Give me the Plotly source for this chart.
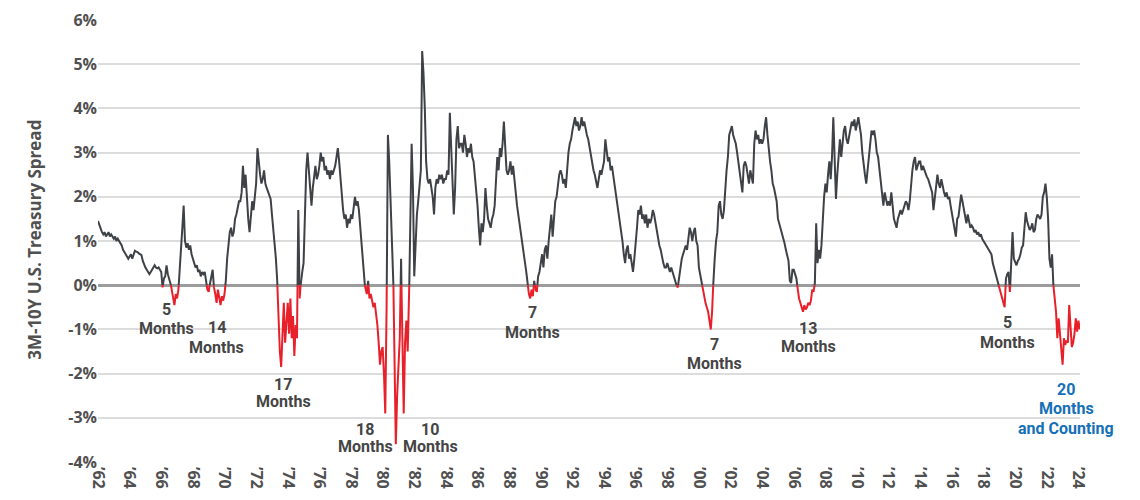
import numpy as np
import plotly.graph_objects as go

# 3M-10Y U.S. Treasury spread (%), monthly readings, one list per year
spread = {
    1962: [1.45, 1.35, 1.25, 1.2, 1.15, 1.2, 1.1, 1.15, 1.2, 1.1, 1.15, 1.1],
    1963: [1.05, 1.1, 1.0, 1.05, 1.0, 0.95, 0.9, 0.8, 0.75, 0.7, 0.65, 0.6],
    1964: [0.65, 0.7, 0.6, 0.72, 0.78, 0.76, 0.75, 0.72, 0.7, 0.68, 0.55, 0.45],
    1965: [0.4, 0.35, 0.3, 0.25, 0.3, 0.35, 0.4, 0.45, 0.4, 0.38, 0.4, 0.35],
    1966: [0.3, -0.05, 0.15, 0.2, 0.45, 0.25, 0.15, 0.05, -0.1, -0.3, -0.45, -0.2],
    1967: [-0.3, -0.1, 0.3, 0.9, 1.3, 1.8, 1.0, 0.85, 0.95, 0.8, 0.9, 0.7],
    1968: [0.6, 0.5, 0.4, 0.45, 0.3, 0.35, 0.2, 0.3, 0.25, 0.3, 0.1, -0.1],
    1969: [-0.15, 0.05, 0.2, 0.35, -0.05, -0.2, -0.4, -0.1, -0.3, -0.45, -0.25, -0.35],
    1970: [-0.2, 0.1, 0.6, 1.0, 1.2, 1.3, 1.1, 1.2, 1.5, 1.6, 1.8, 1.9],
    1971: [1.9, 2.1, 2.7, 2.2, 2.5, 1.9, 1.5, 1.2, 1.6, 1.9, 1.7, 2.1],
    1972: [2.3, 3.1, 2.7, 2.5, 2.3, 2.4, 2.6, 2.3, 2.2, 2.1, 2.0, 1.95],
    1973: [1.6, 1.3, 1.0, 0.6, 0.1, -0.8, -1.5, -1.85, -0.9, -0.4, -1.3, -0.7],
    1974: [-0.4, -1.1, -0.3, -1.2, -0.7, -1.6, -0.9, -1.2, 1.7, -0.3, 0.1, 0.3],
    1975: [0.5, 1.5, 2.6, 3.0, 2.6, 2.1, 1.8, 2.2, 2.5, 2.7, 2.4, 2.5],
    1976: [2.7, 3.0, 2.8, 2.9, 2.6, 2.7, 2.5, 2.6, 2.4, 2.6, 2.5, 2.6],
    1977: [2.7, 2.9, 3.1, 2.8, 2.4, 2.0, 1.7, 1.5, 1.6, 1.3, 1.5, 1.4],
    1978: [1.6, 1.5, 1.8, 2.0, 1.8, 1.9, 1.7, 1.3, 1.0, 0.6, 0.1, -0.1],
    1979: [-0.2, 0.1, -0.3, -0.2, -0.4, -0.5, -0.4, -0.6, -0.9, -1.3, -1.8, -1.5],
    1980: [-1.4, -2.0, -2.9, -0.5, 3.4, 2.8, 2.0, 1.2, 0.3, -1.5, -3.6, -2.5],
    1981: [-1.8, -1.2, 0.6, -1.5, -2.9, -1.3, -0.8, -1.5, -0.4, 1.5, 3.2, 2.2],
    1982: [0.2, 0.9, 1.6, 1.9, 2.2, 2.6, 5.3, 4.8, 4.0, 2.8, 2.4, 2.3],
    1983: [2.4, 2.2, 2.0, 1.6, 2.2, 2.4, 2.3, 2.5, 2.4, 2.5, 2.3, 2.4],
    1984: [2.4, 2.6, 2.5, 3.9, 3.0, 2.5, 1.6, 2.2, 3.3, 3.6, 3.1, 3.2],
    1985: [3.2, 3.0, 3.4, 3.2, 2.9, 3.1, 3.0, 3.2, 2.9, 2.8, 2.5, 2.1],
    1986: [1.8, 1.3, 0.9, 1.4, 1.2, 1.5, 2.2, 1.8, 1.5, 1.4, 1.3, 1.5],
    1987: [1.6, 1.8, 2.3, 2.9, 2.6, 3.1, 2.9, 3.2, 3.7, 3.0, 2.6, 2.5],
    1988: [2.6, 2.8, 2.5, 2.7, 2.3, 2.1, 1.8, 1.6, 1.4, 1.2, 1.0, 0.8],
    1989: [0.5, 0.3, 0.05, -0.2, -0.3, -0.1, -0.25, 0.1, -0.1, -0.15, 0.2, 0.3],
    1990: [0.5, 0.7, 0.4, 0.8, 0.9, 0.6, 1.0, 1.3, 1.6, 1.1, 1.5, 1.9],
    1991: [2.0, 2.3, 2.5, 2.6, 2.5, 2.3, 2.4, 2.2, 2.7, 3.0, 3.2, 3.3],
    1992: [3.5, 3.7, 3.8, 3.6, 3.7, 3.5, 3.6, 3.8, 3.6, 3.7, 3.5, 3.4],
    1993: [3.3, 3.1, 2.9, 2.7, 2.6, 2.5, 2.3, 2.2, 2.4, 2.6, 2.5, 2.7],
    1994: [2.8, 3.3, 3.0, 2.8, 2.9, 2.6, 2.7, 2.5, 2.3, 2.1, 1.9, 1.6],
    1995: [1.4, 1.2, 1.0, 0.7, 0.5, 0.8, 0.9, 0.6, 0.7, 0.5, 0.3, 0.6],
    1996: [0.9, 1.3, 1.7, 1.6, 1.8, 1.5, 1.6, 1.4, 1.6, 1.3, 1.5, 1.4],
    1997: [1.5, 1.7, 1.6, 1.4, 1.2, 1.0, 0.9, 0.8, 0.6, 0.5, 0.4, 0.4],
    1998: [0.5, 0.4, 0.3, 0.4, 0.3, 0.2, 0.1, 0.0, -0.05, 0.2, 0.4, 0.6],
    1999: [0.7, 0.8, 0.9, 0.8, 1.1, 1.3, 1.2, 1.0, 1.2, 1.3, 1.0, 0.9],
    2000: [0.4, 0.2, 0.1, -0.1, -0.3, -0.4, -0.5, -0.6, -0.8, -1.0, -0.6, 0.1],
    2001: [0.6, 1.0, 1.2, 1.8, 1.9, 1.6, 1.5, 1.7, 2.3, 2.6, 2.9, 3.4],
    2002: [3.5, 3.6, 3.4, 3.3, 3.2, 3.0, 2.8, 2.6, 2.3, 2.1, 2.7, 2.8],
    2003: [2.7, 2.5, 2.3, 2.6, 2.4, 2.3, 3.2, 3.5, 3.3, 3.4, 3.2, 3.3],
    2004: [3.2, 3.3, 3.6, 3.8, 3.4, 3.0, 2.8, 2.6, 2.3, 2.2, 2.0, 1.9],
    2005: [1.5, 1.4, 1.3, 1.2, 1.1, 0.95, 0.8, 0.7, 0.55, 0.1, 0.05, 0.35],
    2006: [0.35, 0.25, 0.15, -0.1, -0.3, -0.4, -0.5, -0.6, -0.45, -0.55, -0.5, -0.4],
    2007: [-0.45, -0.35, -0.1, -0.15, 0.05, 1.4, 0.5, 0.8, 0.6, 0.9, 1.5, 2.0],
    2008: [2.3, 2.1, 2.5, 2.8, 2.4, 2.9, 3.8, 2.6, 1.95, 2.5, 2.9, 3.3],
    2009: [2.9, 3.2, 3.5, 3.6, 3.3, 3.2, 3.4, 3.5, 3.7, 3.6, 3.75, 3.5],
    2010: [3.7, 3.8, 3.6, 3.4, 3.0, 2.7, 2.5, 2.3, 2.6, 3.0, 3.3, 3.5],
    2011: [3.4, 3.5, 3.3, 3.0, 2.9, 2.6, 2.3, 2.0, 1.8, 2.1, 1.9, 1.8],
    2012: [1.9, 1.8, 2.1, 1.8, 1.5, 1.4, 1.3, 1.5, 1.6, 1.7, 1.6, 1.7],
    2013: [1.8, 1.9, 1.85, 1.7, 1.9, 2.3, 2.6, 2.8, 2.9, 2.6, 2.7, 2.8],
    2014: [2.8, 2.6, 2.7, 2.6, 2.5, 2.45, 2.4, 2.3, 2.25, 2.1, 1.7, 2.0],
    2015: [2.3, 2.5, 2.3, 2.2, 2.4, 2.2, 2.1, 2.0, 2.1, 1.95, 2.0, 1.8],
    2016: [1.6, 1.4, 1.2, 1.1, 1.5, 1.55, 1.8, 2.05, 1.9, 1.7, 1.5, 1.4],
    2017: [1.6, 1.4, 1.3, 1.35, 1.3, 1.2, 1.25, 1.15, 1.2, 1.1, 1.15, 1.05],
    2018: [1.0, 0.95, 0.9, 0.85, 0.8, 0.75, 0.7, 0.5, 0.4, 0.3, 0.15, 0.05],
    2019: [-0.05, -0.2, -0.3, -0.35, -0.5, 0.15, 0.25, 0.3, -0.15, 0.4, 1.2, 0.6],
    2020: [0.5, 0.45, 0.55, 0.6, 0.7, 0.85, 0.9, 1.4, 1.65, 1.45, 1.35, 1.25],
    2021: [1.3, 1.4, 1.2, 1.25, 1.5, 1.6, 1.55, 1.5, 1.6, 2.0, 2.1, 2.3],
    2022: [2.0, 1.5, 0.6, 0.4, 0.7, 0.0, -0.3, -0.6, -1.2, -0.75, -1.1, -1.5],
    2023: [-1.8, -1.2, -1.35, -1.25, -1.3, -0.45, -1.05, -1.4, -1.3, -1.1, -0.75, -1.05],
    2024: [-0.8, -1.0],
}

tick_years = list(range(1962, 2025, 2))
tick_labels = ["\u2019" + str(y)[2:] for y in tick_years]
y_ticks = [6, 5, 4, 3, 2, 1, 0, -1, -2, -3, -4]
y_labels = ["6%", "5%", "4%", "3%", "2%", "1%", "0%", "-1%", "-2%", "-3%", "-4%"]

# inversion labels: (x year, y of each line, lines, colour)
inversions = [
    (1966.3, [-0.54, -0.97], ["5", "Months"], "#454545"),
    (1969.5, [-0.95, -1.40], ["14", "Months"], "#454545"),
    (1973.7, [-2.25, -2.64], ["17", "Months"], "#454545"),
    (1978.9, [-3.26, -3.65], ["18", "Months"], "#454545"),
    (1983.0, [-3.26, -3.65], ["10", "Months"], "#454545"),
    (1989.45, [-0.61, -1.08], ["7", "Months"], "#454545"),
    (2001.0, [-1.35, -1.78], ["7", "Months"], "#454545"),
    (2006.9, [-0.97, -1.39], ["13", "Months"], "#454545"),
    (2019.5, [-0.85, -1.30], ["5", "Months"], "#454545"),
    (2023.23, [-2.35, -2.79, -3.24], ["20", "Months", "and Counting"], "#1570b7"),
]

t = []
v = []
for yr, vals in spread.items():
    for m, val in enumerate(vals):
        t.append(yr + m / 12)
        v.append(val)

# split the line at zero so the inverted stretches can be coloured red
xs, ys = [t[0]], [v[0]]
for i in range(1, len(t)):
    if (v[i - 1] < 0) != (v[i] < 0) and v[i - 1] != 0 and v[i] != 0:
        tc = t[i - 1] + (t[i] - t[i - 1]) * v[i - 1] / (v[i - 1] - v[i])
        xs.append(tc)
        ys.append(0.0)
    xs.append(t[i])
    ys.append(v[i])
ys = np.array(ys)
gray_y = np.where(ys >= 0, ys, np.nan)
red_y = np.where(ys <= 0, ys, np.nan)

fig = go.Figure()
fig.add_trace(go.Scatter(
    x=xs, y=gray_y, mode="lines",
    line=dict(color="#3e4246", width=2),
    connectgaps=False, showlegend=False,
))
fig.add_trace(go.Scatter(
    x=xs, y=red_y, mode="lines",
    line=dict(color="#e8202a", width=2),
    connectgaps=False, showlegend=False,
))

label_font = "Roboto, sans-serif"
for x, ys_lines, lines, colour in inversions:
    for yy, txt in zip(ys_lines, lines):
        fig.add_annotation(
            x=x, y=yy, text=txt, showarrow=False,
            xanchor="center", yanchor="middle",
            font=dict(family=label_font, size=16, color=colour, weight="bold"),
        )

# axis title as an annotation so it sits where the reference has it
fig.add_annotation(
    xref="paper", yref="paper", x=-0.064, y=0.503,
    text="3M-10Y U.S. Treasury Spread", textangle=-90, showarrow=False,
    xanchor="center", yanchor="middle",
    font=dict(family="Open Sans, sans-serif", size=17, color="#505050", weight="bold"),
)

# page body has an 8px margin, so the figure is sized and placed to allow for it
fig.update_layout(
    width=1124,
    height=484,
    autosize=False,
    paper_bgcolor="white",
    plot_bgcolor="white",
    margin=dict(l=90, r=52, t=12, b=30),
    showlegend=False,
)
fig.update_xaxes(
    range=[1962, 2024.1],
    tickvals=tick_years,
    ticktext=tick_labels,
    tickangle=90,
    showgrid=False,
    zeroline=False,
    showline=False,
    ticks="",
    ticklabelstandoff=4,
    ticklabeloverflow="allow",
    automargin=False,
    tickfont=dict(family="Open Sans, sans-serif", size=16, color="#505050", weight="bold"),
)
fig.update_yaxes(
    range=[-4, 6],
    tickvals=y_ticks,
    ticktext=y_labels,
    showgrid=True,
    gridcolor="#dcdcdc",
    gridwidth=1.5,
    zeroline=True,
    zerolinecolor="#9c9c9c",
    zerolinewidth=2.5,
    ticks="",
    ticklabeloverflow="allow",
    automargin=False,
    tickfont=dict(family="Open Sans, sans-serif", size=16, color="#505050", weight="bold"),
)

fig.write_html("out.html")
